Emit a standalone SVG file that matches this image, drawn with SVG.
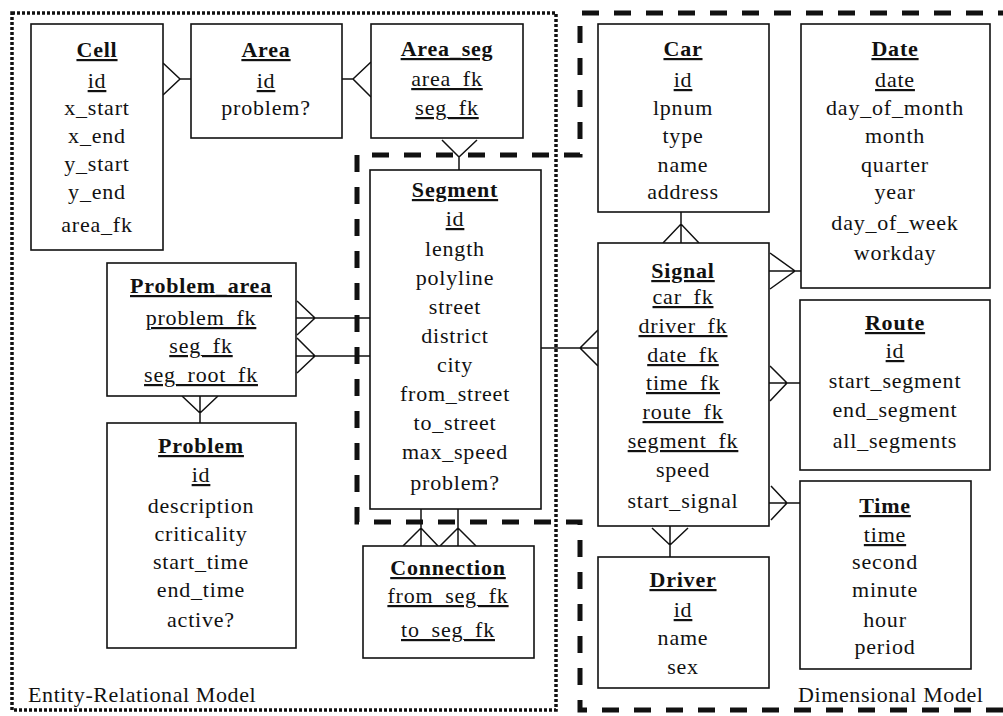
<svg xmlns="http://www.w3.org/2000/svg" width="1003" height="716" viewBox="0 0 1003 716">
  <style>
    .box { fill: #fff; stroke: #111; stroke-width: 1.6; }
    .t { font-family: "Liberation Serif", "Times New Roman", serif; font-size: 22px; text-anchor: middle; fill: #111; letter-spacing: 0.8px; }
    .title { font-weight: bold; text-decoration: underline; }
    .key { text-decoration: underline; }
    .lbl { font-family: "Liberation Serif", "Times New Roman", serif; font-size: 22px; fill: #111; letter-spacing: 0.6px; }
    .rel { fill: none; stroke: #111; stroke-width: 1.5; }
    .er-frame { fill: none; stroke: #111; stroke-width: 3.5; stroke-dasharray: 3 2; }
    .dim-frame { fill: none; stroke: #111; stroke-width: 5; stroke-dasharray: 17 15; }
  </style>
  <rect width="1003" height="716" fill="#fff"/>

  <!-- model frames -->
  <g id="frames">
    <rect class="er-frame" x="12" y="13" width="544" height="697"/>
    <path class="dim-frame" d="M1003,710 H580 V522 H357 V155 H580 V13 H1003"/>
  </g>

  <!-- relationships (crow's feet) -->
  <g id="connectors">
    <!-- Cell - Area -->
    <path class="rel" d="M163,63 L180,79 L163,95 M180,79 H191"/>
    <!-- Area - Area_seg -->
    <path class="rel" d="M342,79 H353 M371,62 L353,79 L371,97"/>
    <!-- Area_seg - Segment -->
    <path class="rel" d="M442,140 L459,157 L477,140 M459,157 V170"/>
    <!-- Problem_area - Problem -->
    <path class="rel" d="M182,396 L200,413 L218,396 M200,396 V423"/>
    <!-- Problem_area - Segment (two) -->
    <path class="rel" d="M297,301 L315,318 L297,335 M296,318 H370"/>
    <path class="rel" d="M297,338 L315,356 L297,373 M296,356 H370"/>
    <!-- Segment - Connection (two) -->
    <path class="rel" d="M403,546 L421,528 L438,546 M421,509 V546"/>
    <path class="rel" d="M440,546 L458,528 L476,546 M458,509 V546"/>
    <!-- Segment - Signal -->
    <path class="rel" d="M541,348 H598 M598,330 L580,348 L598,366"/>
    <!-- Car - Signal -->
    <path class="rel" d="M681,212 V243 M663,243 L681,224 L699,243"/>
    <!-- Signal - Driver -->
    <path class="rel" d="M670,526 V557 M652,528 L670,545 L688,528"/>
    <!-- Signal - Date -->
    <path class="rel" d="M770,253 L795,271 L770,289 M769,271 H801"/>
    <!-- Signal - Route -->
    <path class="rel" d="M770,366 L787,383 L770,401 M769,383 H800"/>
    <!-- Signal - Time -->
    <path class="rel" d="M771,486 L787,503 L771,520 M769,503 H800"/>
  </g>

  <g id="cell">
    <rect class="box" x="31" y="24" width="132" height="226"/>
    <text class="t title" x="97" y="57">Cell</text>
    <text class="t key" x="97" y="88">id</text>
    <text class="t" x="97" y="115">x_start</text>
    <text class="t" x="97" y="143">x_end</text>
    <text class="t" x="97" y="171">y_start</text>
    <text class="t" x="97" y="199">y_end</text>
    <text class="t" x="97" y="232">area_fk</text>
  </g>

  <g id="area">
    <rect class="box" x="191" y="24" width="151" height="114"/>
    <text class="t title" x="266" y="57">Area</text>
    <text class="t key" x="266" y="88">id</text>
    <text class="t" x="266" y="115">problem?</text>
  </g>

  <g id="area-seg">
    <rect class="box" x="371" y="24" width="152" height="114"/>
    <text class="t title" x="447" y="56">Area_seg</text>
    <text class="t key" x="447" y="86">area_fk</text>
    <text class="t key" x="447" y="115">seg_fk</text>
  </g>

  <g id="segment">
    <rect class="box" x="370" y="170" width="171" height="339"/>
    <text class="t title" x="455" y="197">Segment</text>
    <text class="t key" x="455" y="226">id</text>
    <text class="t" x="455" y="256">length</text>
    <text class="t" x="455" y="285">polyline</text>
    <text class="t" x="455" y="314">street</text>
    <text class="t" x="455" y="343">district</text>
    <text class="t" x="455" y="372">city</text>
    <text class="t" x="455" y="401">from_street</text>
    <text class="t" x="455" y="430">to_street</text>
    <text class="t" x="455" y="459">max_speed</text>
    <text class="t" x="455" y="490">problem?</text>
  </g>

  <g id="problem-area">
    <rect class="box" x="107" y="263" width="189" height="133"/>
    <text class="t title" x="201" y="293">Problem_area</text>
    <text class="t key" x="201" y="325">problem_fk</text>
    <text class="t key" x="201" y="353">seg_fk</text>
    <text class="t key" x="201" y="382">seg_root_fk</text>
  </g>

  <g id="problem">
    <rect class="box" x="107" y="423" width="189" height="225"/>
    <text class="t title" x="201" y="453">Problem</text>
    <text class="t key" x="201" y="482">id</text>
    <text class="t" x="201" y="513">description</text>
    <text class="t" x="201" y="541">criticality</text>
    <text class="t" x="201" y="569">start_time</text>
    <text class="t" x="201" y="597">end_time</text>
    <text class="t" x="201" y="627">active?</text>
  </g>

  <g id="connection">
    <rect class="box" x="363" y="546" width="171" height="112"/>
    <text class="t title" x="448" y="575">Connection</text>
    <text class="t key" x="448" y="603">from_seg_fk</text>
    <text class="t key" x="448" y="637">to_seg_fk</text>
  </g>

  <g id="car">
    <rect class="box" x="598" y="24" width="171" height="188"/>
    <text class="t title" x="683" y="56">Car</text>
    <text class="t key" x="683" y="87">id</text>
    <text class="t" x="683" y="115">lpnum</text>
    <text class="t" x="683" y="143">type</text>
    <text class="t" x="683" y="172">name</text>
    <text class="t" x="683" y="199">address</text>
  </g>

  <g id="date">
    <rect class="box" x="801" y="24" width="189" height="264"/>
    <text class="t title" x="895" y="56">Date</text>
    <text class="t key" x="895" y="87">date</text>
    <text class="t" x="895" y="115">day_of_month</text>
    <text class="t" x="895" y="143">month</text>
    <text class="t" x="895" y="172">quarter</text>
    <text class="t" x="895" y="199">year</text>
    <text class="t" x="895" y="230">day_of_week</text>
    <text class="t" x="895" y="260">workday</text>
  </g>

  <g id="signal">
    <rect class="box" x="598" y="243" width="171" height="283"/>
    <text class="t title" x="683" y="278">Signal</text>
    <text class="t key" x="683" y="304">car_fk</text>
    <text class="t key" x="683" y="333">driver_fk</text>
    <text class="t key" x="683" y="362">date_fk</text>
    <text class="t key" x="683" y="390">time_fk</text>
    <text class="t key" x="683" y="419">route_fk</text>
    <text class="t key" x="683" y="448">segment_fk</text>
    <text class="t" x="683" y="477">speed</text>
    <text class="t" x="683" y="508">start_signal</text>
  </g>

  <g id="route">
    <rect class="box" x="800" y="300" width="190" height="170"/>
    <text class="t title" x="895" y="330">Route</text>
    <text class="t key" x="895" y="358">id</text>
    <text class="t" x="895" y="388">start_segment</text>
    <text class="t" x="895" y="417">end_segment</text>
    <text class="t" x="895" y="448">all_segments</text>
  </g>

  <g id="time">
    <rect class="box" x="800" y="481" width="171" height="188"/>
    <text class="t title" x="885" y="513">Time</text>
    <text class="t key" x="885" y="542">time</text>
    <text class="t" x="885" y="569">second</text>
    <text class="t" x="885" y="597">minute</text>
    <text class="t" x="885" y="627">hour</text>
    <text class="t" x="885" y="654">period</text>
  </g>

  <g id="driver">
    <rect class="box" x="598" y="557" width="171" height="131"/>
    <text class="t title" x="683" y="587">Driver</text>
    <text class="t key" x="683" y="617">id</text>
    <text class="t" x="683" y="645">name</text>
    <text class="t" x="683" y="674">sex</text>
  </g>

  <g id="model-labels">
    <text class="lbl" x="28" y="702">Entity-Relational Model</text>
    <text class="lbl" x="798" y="702">Dimensional Model</text>
  </g>
</svg>
